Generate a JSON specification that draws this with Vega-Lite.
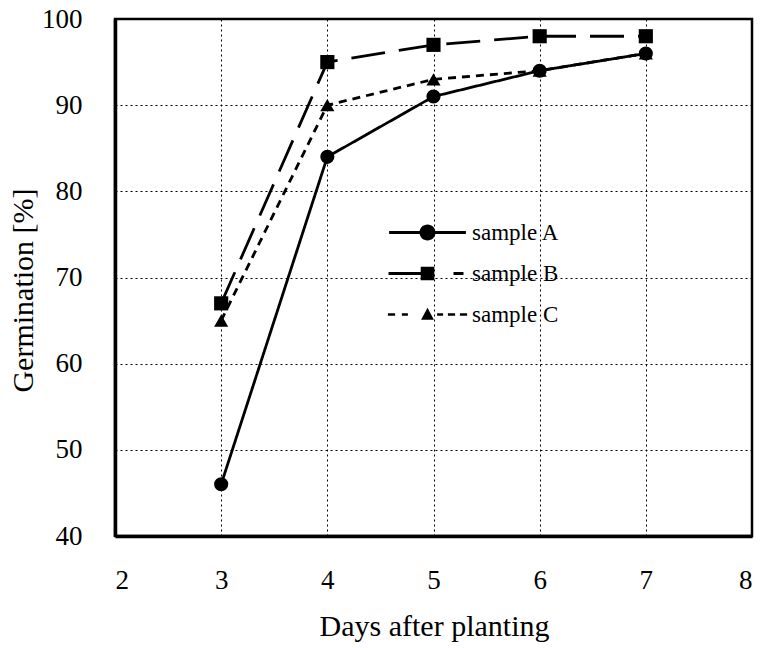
{
  "$schema": "https://vega.github.io/schema/vega-lite/v6.json",
  "width": 637,
  "height": 517,
  "autosize": "none",
  "padding": {"left": 115, "top": 19, "right": 11, "bottom": 112},
  "background": "white",
  "config": {
    "view": {"stroke": "black", "strokeWidth": 2.5},
    "font": "Liberation Serif",
    "axis": {
      "grid": true, "gridColor": "black", "gridDash": [2, 3], "gridWidth": 1, "gridOpacity": 1,
      "domain": true, "domainColor": "black", "domainWidth": 3.5,
      "ticks": false, "tickSize": 0,
      "labelFont": "Liberation Serif", "labelFontSize": 27, "labelColor": "black",
      "titleFont": "Liberation Serif", "titleFontSize": 30, "titleFontWeight": "normal", "titleColor": "black"
    },
    "legend": {
      "orient": "none", "legendX": 301, "legendY": 202,
      "symbolSize": 64, "symbolStrokeWidth": 0, "symbolFillColor": "black", "symbolOpacity": 1,
      "labelFont": "Liberation Serif", "labelFontSize": 23, "labelColor": "black",
      "labelOffset": 33, "rowPadding": 17, "padding": 0
    }
  },
  "data": {
    "values": [
      {"sample": "sample C", "day": 3, "germination": 65},
      {"sample": "sample C", "day": 4, "germination": 90},
      {"sample": "sample C", "day": 5, "germination": 93},
      {"sample": "sample C", "day": 6, "germination": 94},
      {"sample": "sample C", "day": 7, "germination": 96},
      {"sample": "sample B", "day": 3, "germination": 67},
      {"sample": "sample B", "day": 4, "germination": 95},
      {"sample": "sample B", "day": 5, "germination": 97},
      {"sample": "sample B", "day": 6, "germination": 98},
      {"sample": "sample B", "day": 7, "germination": 98},
      {"sample": "sample A", "day": 3, "germination": 46},
      {"sample": "sample A", "day": 4, "germination": 84},
      {"sample": "sample A", "day": 5, "germination": 91},
      {"sample": "sample A", "day": 6, "germination": 94},
      {"sample": "sample A", "day": 7, "germination": 96}
    ]
  },
  "encoding": {
    "x": {
      "field": "day", "type": "quantitative",
      "scale": {"domain": [2, 8], "nice": false, "zero": false},
      "axis": {
        "title": "Days after planting", "values": [2, 3, 4, 5, 6, 7, 8],
        "labelBaseline": "alphabetic", "labelPadding": 52,
        "titleX": 319, "titleY": 99, "titleBaseline": "alphabetic"
      }
    },
    "y": {
      "field": "germination", "type": "quantitative",
      "scale": {"domain": [40, 100], "nice": false, "zero": false},
      "axis": {
        "title": "Germination [%]", "values": [40, 50, 60, 70, 80, 90, 100],
        "labelPadding": 33, "labelBaseline": "middle",
        "titleX": -83, "titleY": 271, "titleBaseline": "alphabetic", "titleAngle": -90
      }
    }
  },
  "layer": [
    {
      "mark": {"type": "line", "color": "black", "strokeWidth": 2.8},
      "encoding": {
        "strokeDash": {
          "field": "sample", "type": "nominal",
          "scale": {"domain": ["sample A", "sample B", "sample C"], "range": [[1, 0], [34, 14], [8, 6]]},
          "legend": null
        }
      }
    },
    {
      "mark": {"type": "point", "filled": true, "color": "black", "opacity": 1, "size": 200},
      "encoding": {
        "shape": {
          "field": "sample", "type": "nominal",
          "scale": {"domain": ["sample A", "sample B", "sample C"], "range": ["circle", "square", "triangle-up"]},
          "legend": null
        }
      }
    },
    {
      "transform": [{"filter": "datum.day > 100"}],
      "mark": {"type": "point", "filled": true, "color": "black", "opacity": 1, "size": 64},
      "encoding": {
        "shape": {
          "field": "sample", "type": "nominal",
          "scale": {
            "domain": ["sample A", "sample B", "sample C"],
            "range": [
              "M-9.6,-0.35H-1.8V0.35H-9.6Z M1.8,-0.35H9.6V0.35H1.8Z M-2,0A2,2,0,1,1,2,0A2,2,0,1,1,-2,0Z",
              "M-9.75,-0.35H-1.6V0.35H-9.75Z M-1.7,-1.7H1.7V1.7H-1.7Z M6.5,-0.35H9V0.35H6.5Z",
              "M-9.9,-0.3H-8.1V0.3H-9.9Z M-6.4,-0.3H-4.9V0.3H-6.4Z M0,-1.7L1.6,1.3L-1.6,1.3Z M2.4,-0.3H3.9V0.3H2.4Z M5.1,-0.3H6.9V0.3H5.1Z M8.1,-0.3H9.9V0.3H8.1Z"
            ]
          },
          "legend": {"title": null}
        }
      }
    }
  ],
  "resolve": {"scale": {"shape": "independent"}, "legend": {"shape": "independent"}}
}
